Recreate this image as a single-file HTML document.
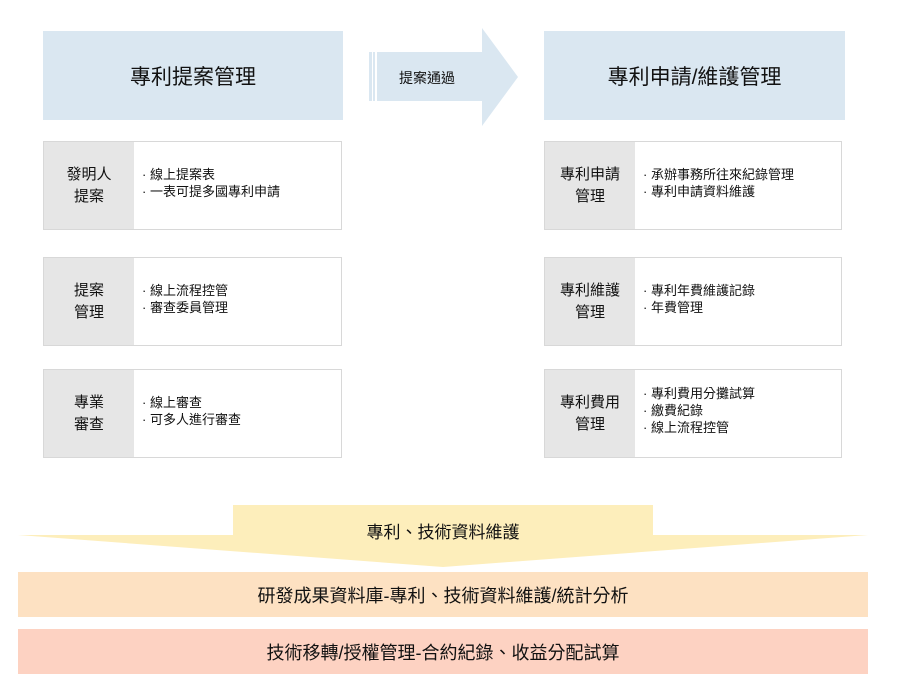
<!DOCTYPE html>
<html><head><meta charset="utf-8"><style>
body{margin:0;width:900px;height:700px;background:#fff;position:relative;font-family:"Liberation Sans","Noto Sans CJK TC",sans-serif;color:#111;overflow:hidden}
.a{position:absolute}
.hd{background:#dae7f1;font-size:21px;display:flex;align-items:center;justify-content:center}
.card{position:absolute;border:1px solid #d8d8d8;background:#fff;display:flex}
.card .l{background:#e6e6e6;width:90px;display:flex;align-items:center;justify-content:center;text-align:center;font-size:15px;line-height:22px}
.card .r{padding-left:8px;padding-bottom:6px;display:flex;flex-direction:column;justify-content:center;font-size:13px;line-height:17px}
.bar{position:absolute;left:18px;width:850px;height:45px;display:flex;align-items:center;justify-content:center;font-size:18px}
</style></head><body>
<div class="a hd" style="left:43px;top:31px;width:300px;height:89px">專利提案管理</div>
<div class="a hd" style="left:544px;top:31px;width:301px;height:89px">專利申請/維護管理</div>
<svg class="a" style="left:0;top:0" width="900" height="700">
<polygon points="377,52 482,52 482,28 518,77 482,126 482,101 377,101" fill="#dae7f1"/>
<rect x="369" y="52" width="3" height="49" fill="#dae7f1"/>
<rect x="373" y="52" width="2" height="49" fill="#dae7f1"/>
<polygon points="233,505 653,505 653,535 868,535 443,567 18,535 233,535" fill="#fdeebb"/>
</svg>
<div class="a" style="left:372px;top:68px;width:110px;text-align:center;font-size:14px">提案通過</div>
<div class="a" style="left:233px;top:518px;width:420px;text-align:center;font-size:17px">專利、技術資料維護</div>

<div class="card" style="left:43px;top:141px;width:297px;height:87px"><div class="l">發明人<br>提案</div><div class="r"><div>· 線上提案表</div><div>· 一表可提多國專利申請</div></div></div>
<div class="card" style="left:43px;top:257px;width:297px;height:87px"><div class="l">提案<br>管理</div><div class="r"><div>· 線上流程控管</div><div>· 審查委員管理</div></div></div>
<div class="card" style="left:43px;top:369px;width:297px;height:87px"><div class="l">專業<br>審查</div><div class="r"><div>· 線上審查</div><div>· 可多人進行審查</div></div></div>

<div class="card" style="left:544px;top:141px;width:296px;height:87px"><div class="l">專利申請<br>管理</div><div class="r"><div>· 承辦事務所往來紀錄管理</div><div>· 專利申請資料維護</div></div></div>
<div class="card" style="left:544px;top:257px;width:296px;height:87px"><div class="l">專利維護<br>管理</div><div class="r"><div>· 專利年費維護記錄</div><div>· 年費管理</div></div></div>
<div class="card" style="left:544px;top:369px;width:296px;height:87px"><div class="l">專利費用<br>管理</div><div class="r"><div>· 專利費用分攤試算</div><div>· 繳費紀錄</div><div>· 線上流程控管</div></div></div>

<div class="bar" style="top:572px;background:#fde1c2">研發成果資料庫-專利、技術資料維護/統計分析</div>
<div class="bar" style="top:629px;background:#fdd2c2">技術移轉/授權管理-合約紀錄、收益分配試算</div>
</body></html>
